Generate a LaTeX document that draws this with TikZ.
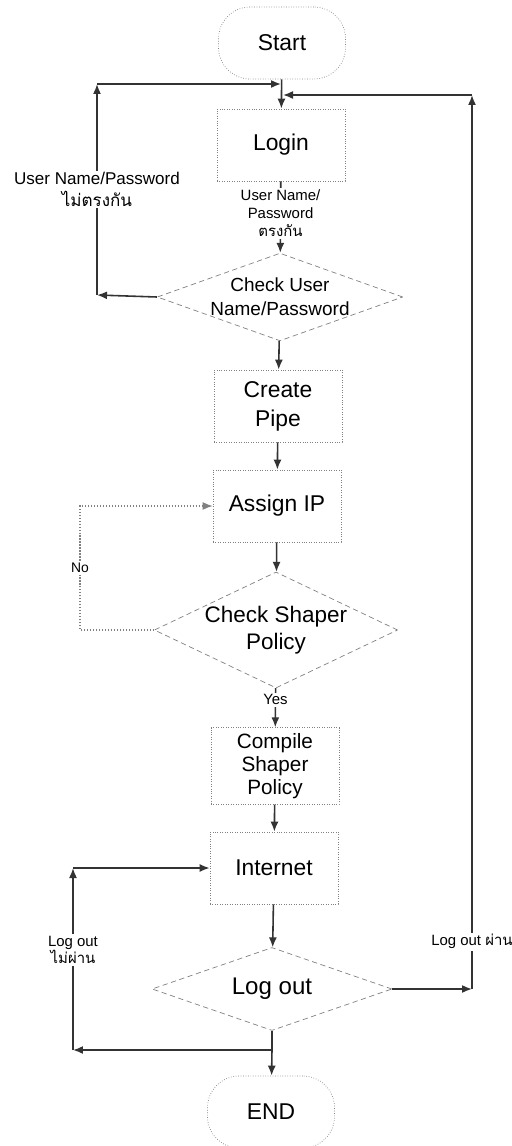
\documentclass[tikz,border=0pt]{standalone}
\usepackage{fontspec}
\setmainfont{Liberation Sans}
\newfontfamily\thaifont[Script=Thai]{Loma}
\usetikzlibrary{arrows.meta, shapes.geometric}

\begin{document}
\begin{tikzpicture}[x=0.02cm, y=-0.02cm, >={Latex[length=2mm,width=1.6mm]},
  term/.style={draw=gray, densely dotted, rounded corners=18pt, minimum width=2.54cm, minimum height=1.44cm, font=\fontsize{13}{16}\selectfont},
  proc/.style={draw=gray, densely dotted, minimum width=2.56cm, minimum height=1.44cm, align=center},
  dec/.style={diamond, draw=gray, densely dashed, align=center, inner sep=0pt},
  flow/.style={->, draw=black!80, line width=0.9pt},
  lbl/.style={fill=white, align=center, inner sep=1pt, font=\fontsize{8.5}{10.2}\selectfont}]
  \useasboundingbox (0,0) rectangle (511,1146);

  % Main column
  \node[term] (start) at (282,43) {Start};
  \node[proc, font=\fontsize{13}{16}\selectfont] (login) at (281,145) {Login};
  \node[dec, aspect=2.8, minimum width=4.8cm, minimum height=1.74cm, font=\fontsize{10.8}{13.7}\selectfont] (chk1) at (280,297) {Check User\\Name/Password};
  \node[proc, font=\fontsize{13}{16.5}\selectfont] (pipe) at (278,406) {Create\\Pipe};
  \node[proc, font=\fontsize{13}{16}\selectfont] (ip) at (277,506) {Assign IP};
  \node[dec, aspect=2.1, minimum width=4.84cm, minimum height=2.32cm, font=\fontsize{12.8}{15.4}\selectfont] (chk2) at (276,630) {Check Shaper\\Policy};
  \node[proc, font=\fontsize{11.8}{13}\selectfont] (comp) at (275,766) {Compile\\Shaper\\Policy};
  \node[proc, font=\fontsize{13}{16}\selectfont] (net) at (274,868) {Internet};
  \node[dec, aspect=2.9, minimum width=4.8cm, minimum height=1.66cm, font=\fontsize{13.7}{16}\selectfont] (out) at (272,989) {Log out};
  \node[term] (stop) at (271,1112) {END};

  % Junction points
  \coordinate (j1) at (281,84);
  \coordinate (j2) at (283,95);
  \coordinate (j3) at (272,1050);
  \coordinate (a1) at (97,295);
  \coordinate (a2) at (97,84);
  \coordinate (b1) at (472,989);
  \coordinate (b2) at (472,95);
  \coordinate (c1) at (80,630);
  \coordinate (c2) at (80,506);
  \coordinate (d1) at (73,1050);
  \coordinate (d2) at (73,868);

  % Straight arrows
  \draw[flow] (start) -- (login);
  \draw[flow] (login) -- node[lbl, pos=0.45] {User Name/\\Password\\{\thaifont ตรงกัน}} (chk1);
  \draw[flow] (chk1) -- (pipe);
  \draw[flow] (pipe) -- (ip);
  \draw[flow] (ip) -- (chk2);
  \draw[flow] (chk2) -- node[lbl, pos=0.3] {Yes} (comp);
  \draw[flow] (comp) -- (net);
  \draw[flow] (net) -- (out);
  \draw[flow] (j3) -- (stop);
  \draw[draw=black!80, line width=0.9pt] (out) -- (j3);

  % Login loop
  \draw[flow] (chk1.west) -- (a1);
  \draw[flow] (a1) -- node[lbl, font=\fontsize{9.7}{12.5}\selectfont, pos=0.5] {User Name/Password\\{\thaifont ไม่ตรงกัน}} (a2);
  \draw[flow] (a2) -- (j1);

  % Shaper loop
  \draw[->, draw=gray, densely dotted, line width=0.7pt] (chk2.west) -- (c1) -- node[lbl, font=\fontsize{7.9}{9}\selectfont] {No} (c2) -- (ip.west);

  % Log out loops
  \draw[flow] (out.east) -- (b1);
  \draw[flow] (b1) -- node[lbl, pos=0.053] {Log out {\thaifont ผ่าน}} (b2);
  \draw[flow] (b2) -- (j2);
  \draw[flow] (j3) -- (d1);
  \draw[flow] (d1) -- node[lbl, pos=0.55] {Log out\\{\thaifont ไม่ผ่าน}} (d2);
  \draw[flow] (d2) -- (net.west);
\end{tikzpicture}
\end{document}
